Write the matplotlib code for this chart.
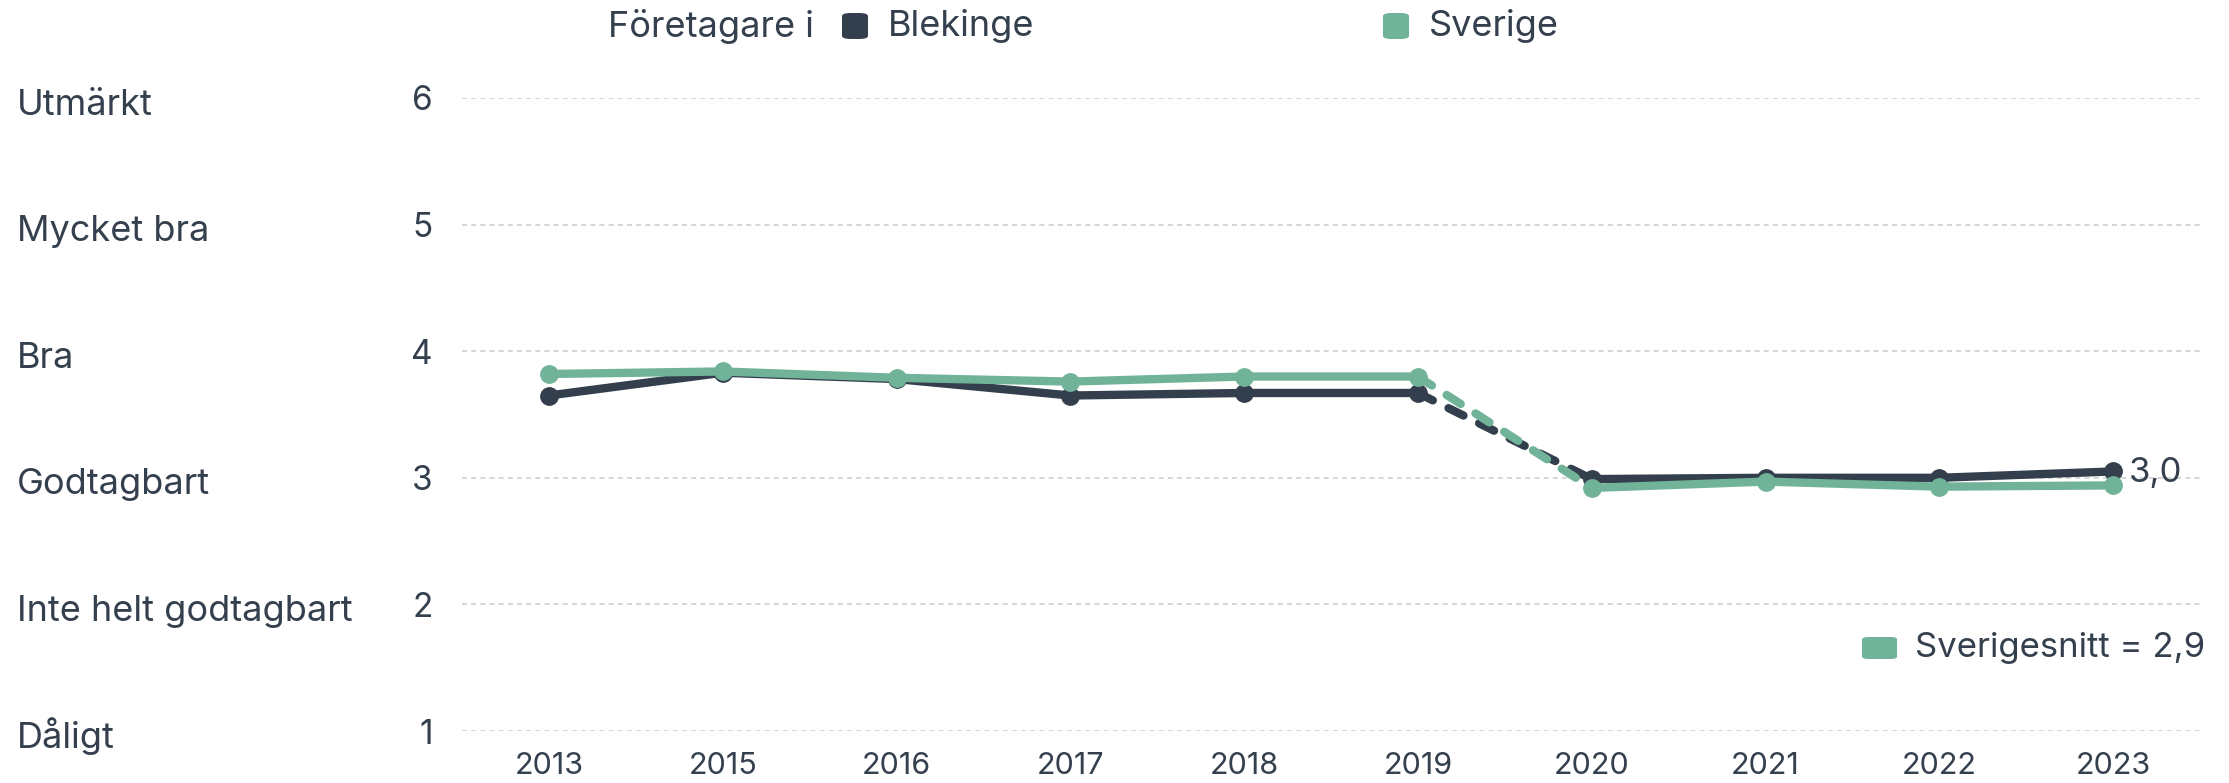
import matplotlib.pyplot as plt
from matplotlib.patches import FancyBboxPatch
from matplotlib.transforms import blended_transform_factory

years = ["2013", "2015", "2016", "2017", "2018", "2019", "2020", "2021", "2022", "2023"]
blekinge = [3.65, 3.83, 3.78, 3.65, 3.67, 3.67, 2.99, 3.00, 3.00, 3.05]
sverige = [3.82, 3.84, 3.79, 3.76, 3.80, 3.80, 2.92, 2.97, 2.93, 2.94]
scale_ticks = [1, 2, 3, 4, 5, 6]
scale_names = ["Dåligt", "Inte helt godtagbart", "Godtagbart", "Bra", "Mycket bra", "Utmärkt"]
last_label = "3,0"
snitt_label = "Sverigesnitt = 2,9"
break_idx = 5  # dashed segment between 2019 and 2020

DARK = "#333f4c"
GREEN = "#71b399"
TEXT = "#34404d"
GRID = "#cfcfcf"

plt.rcParams["font.family"] = ["Inter", "DejaVu Sans"]

W, H = 2229, 783
fig = plt.figure(figsize=(W / 100, H / 100), dpi=100)
ax = fig.add_axes([462 / W, 1 - 731 / H, (2200 - 462) / W, (731 - 98) / H])

x = list(range(len(years)))


def draw_series(vals, color, z):
    kw = dict(color=color, lw=6, marker="o", ms=12.5, solid_capstyle="round",
              solid_joinstyle="round", zorder=z)
    ax.plot(x[: break_idx + 1], vals[: break_idx + 1], **kw)
    ax.plot(x[break_idx + 1 :], vals[break_idx + 1 :], **kw)
    ax.plot(x[break_idx : break_idx + 2], vals[break_idx : break_idx + 2],
            color=color, lw=6, dashes=(2.0, 2.1), dash_capstyle="round", zorder=z)


draw_series(blekinge, DARK, 3)
draw_series(sverige, GREEN, 4)

ax.annotate(last_label, (x[-1], blekinge[-1]), xytext=(11, -1), textcoords="offset points",
            va="center", ha="left", fontsize=25, color=TEXT)

ax.set_xlim(-0.5, len(years) - 0.5)
ax.set_ylim(1, 6)
ax.set_xticks(x)
ax.set_xticklabels(years)
ax.set_yticks(scale_ticks)
ax.tick_params(axis="x", length=0, pad=15, labelsize=22, labelcolor=TEXT)
ax.tick_params(axis="y", length=0, pad=21, labelsize=24, labelcolor=TEXT)
for s in ax.spines.values():
    s.set_visible(False)
ax.yaxis.grid(True, color=GRID, lw=1.2, dashes=(3, 2.5))
ax.set_axisbelow(True)

label_tr = blended_transform_factory(fig.transFigure, ax.transData)
for v, name in zip(scale_ticks, scale_names):
    ax.annotate(name, (17 / W, v), xycoords=label_tr, xytext=(0, -12), textcoords="offset points",
                ha="left", va="baseline", fontsize=26, color=TEXT)

# top legend
fig.text(608 / W, 1 - 26 / H, "Företagare i", ha="left", va="center", fontsize=26, color=TEXT)
for x0, col, lab in [(842, DARK, "Blekinge"), (1383, GREEN, "Sverige")]:
    fig.patches.append(FancyBboxPatch((x0 / W, 1 - 39 / H), 26 / W, 26 / H,
                                      boxstyle="round,pad=0,rounding_size=0.004",
                                      transform=fig.transFigure, fc=col, ec="none"))
    fig.text((x0 + 46) / W, 1 - 26 / H, lab, ha="left", va="center", fontsize=26, color=TEXT)

# average legend
fig.patches.append(FancyBboxPatch((1862 / W, 1 - 659 / H), 35 / W, 22 / H,
                                  boxstyle="round,pad=0,rounding_size=0.003",
                                  transform=fig.transFigure, fc=GREEN, ec="none"))
fig.text(1915 / W, 1 - 648 / H, snitt_label, ha="left", va="center", fontsize=25, color=TEXT)

fig.savefig("out.png", dpi=100)
